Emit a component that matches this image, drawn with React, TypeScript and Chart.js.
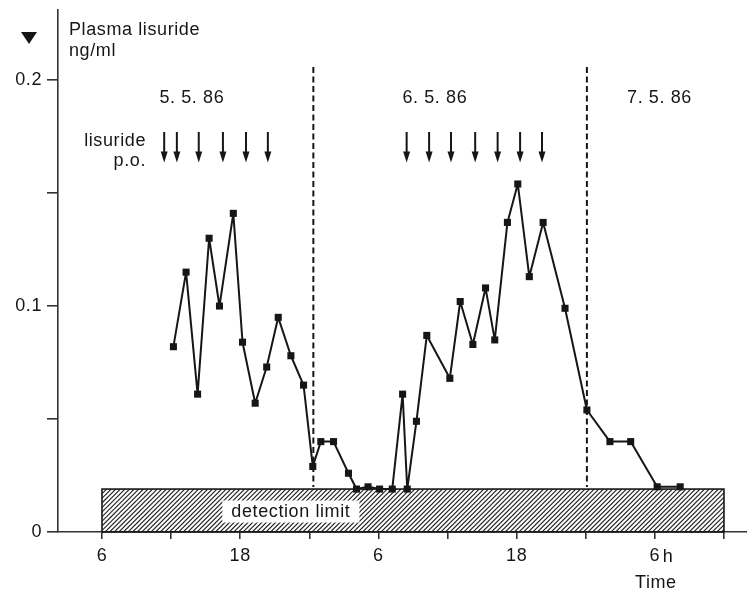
import React, { useEffect, useRef } from "react";
import { Chart, registerables } from "chart.js";

Chart.register(...registerables);

// ---- data ----
const timeHours = [12.2, 13.3, 14.3, 15.3, 16.2, 17.4, 18.2, 19.3, 20.3, 21.3, 22.4, 23.5, 24.3, 25.0, 26.1, 27.4, 28.1, 29.1, 30.1, 31.2, 32.1, 32.5, 33.3, 34.2, 36.2, 37.1, 38.2, 39.3, 40.1, 41.2, 42.1, 43.1, 44.3, 46.2, 48.1, 50.1, 51.9, 54.2, 56.2];
const plasmaLisuride = [0.082, 0.115, 0.061, 0.130, 0.100, 0.141, 0.084, 0.057, 0.073, 0.095, 0.078, 0.065, 0.029, 0.040, 0.040, 0.026, 0.019, 0.020, 0.019, 0.019, 0.061, 0.019, 0.049, 0.087, 0.068, 0.102, 0.083, 0.108, 0.085, 0.137, 0.154, 0.113, 0.137, 0.099, 0.054, 0.040, 0.040, 0.020, 0.020];

const xTickValues = [6, 12, 18, 24, 30, 36, 42, 48, 54, 60];
const xTickLabels = ["6", "", "18", "", "6", "", "18", "", "6", ""];
const yTickValues = [0, 0.05, 0.1, 0.15, 0.2];
const yTickLabels = ["0", "", "0.1", "", "0.2"];

const dayLabels = ["5. 5. 86", "6. 5. 86", "7. 5. 86"];
const dayLabelHours = [13.8, 34.9, 54.4];
const dayBoundaryHours = [24.35, 48.1];
const doseHours = [11.4, 12.5, 14.4, 16.5, 18.5, 20.4, 32.45, 34.4, 36.3, 38.4, 40.35, 42.3, 44.2];
const detectionLimit = 0.019;
const detectionRange = [6, 60];

const FONT = "'Liberation Sans', Arial, Helvetica, sans-serif";
const INK = "#161616";

const overlayPlugin = {
  id: "overlay",
  beforeDraw(chart: any) {
    const ctx = chart.ctx;
    ctx.save();
    ctx.fillStyle = "#ffffff";
    ctx.fillRect(0, 0, chart.width, chart.height);
    ctx.restore();
    (ctx as any).letterSpacing = "0.6px";
  },
  beforeDatasetsDraw(chart: any) {
    const ctx = chart.ctx;
    const xs = chart.scales.x;
    const ys = chart.scales.y;
    // detection limit hatched band
    const x0 = xs.getPixelForValue(detectionRange[0]);
    const x1 = xs.getPixelForValue(detectionRange[1]);
    const yTop = ys.getPixelForValue(detectionLimit);
    const yBot = ys.getPixelForValue(0);
    ctx.save();
    ctx.beginPath();
    ctx.rect(x0, yTop, x1 - x0, yBot - yTop);
    ctx.clip();
    ctx.strokeStyle = "#222";
    ctx.lineWidth = 1.1;
    const h = yBot - yTop;
    for (let x = x0 - h; x < x1 + h; x += 4.6) {
      ctx.beginPath();
      ctx.moveTo(x, yBot);
      ctx.lineTo(x + h, yTop);
      ctx.stroke();
    }
    ctx.restore();
    ctx.save();
    ctx.strokeStyle = INK;
    ctx.lineWidth = 1.6;
    ctx.strokeRect(x0, yTop, x1 - x0, yBot - yTop);
    ctx.restore();

    // label box
    ctx.save();
    ctx.font = `18px ${FONT}`;
    (ctx as any).letterSpacing = "0.6px";
    const text = "detection limit";
    const tw = ctx.measureText(text).width;
    const cx = xs.getPixelForValue(22.4);
    const cy = (yTop + yBot) / 2 + 1;
    ctx.fillStyle = "#ffffff";
    ctx.fillRect(cx - tw / 2 - 9, cy - 11, tw + 18, 22);
    ctx.fillStyle = INK;
    ctx.textAlign = "center";
    ctx.textBaseline = "middle";
    ctx.fillText(text, cx, cy);
    ctx.restore();

    // dashed day boundaries
    ctx.save();
    ctx.strokeStyle = INK;
    ctx.lineWidth = 2;
    ctx.setLineDash([6, 3.5]);
    dayBoundaryHours.forEach((hh) => {
      const x = xs.getPixelForValue(hh);
      ctx.beginPath();
      ctx.moveTo(x, ys.getPixelForValue(0.2058));
      ctx.lineTo(x, yTop - 2);
      ctx.stroke();
    });
    ctx.restore();
  },
  afterDraw(chart: any) {
    const ctx = chart.ctx;
    const xs = chart.scales.x;
    const ys = chart.scales.y;
    ctx.save();
    (ctx as any).letterSpacing = "0.6px";
    ctx.fillStyle = INK;
    ctx.font = `18px ${FONT}`;
    ctx.textBaseline = "alphabetic";

    // axis title
    ctx.textAlign = "left";
    ctx.fillText("Plasma lisuride", 69, 35);
    ctx.fillText("ng/ml", 69, 56);

    // marker triangle
    ctx.beginPath();
    ctx.moveTo(21, 32);
    ctx.lineTo(37, 32);
    ctx.lineTo(29, 44);
    ctx.closePath();
    ctx.fill();

    // day labels
    ctx.textAlign = "center";
    ctx.textBaseline = "middle";
    dayLabels.forEach((t, i) => {
      ctx.fillText(t, xs.getPixelForValue(dayLabelHours[i]), ys.getPixelForValue(0.192));
    });

    // lisuride p.o.
    ctx.textAlign = "right";
    ctx.fillText("lisuride", 146, 141);
    ctx.fillText("p.o.", 146, 161);

    // arrows
    const aTop = ys.getPixelForValue(0.177);
    const aBot = ys.getPixelForValue(0.1635);
    ctx.strokeStyle = INK;
    ctx.lineWidth = 2;
    doseHours.forEach((hh) => {
      const x = xs.getPixelForValue(hh);
      ctx.beginPath();
      ctx.moveTo(x, aTop);
      ctx.lineTo(x, aBot - 8);
      ctx.stroke();
      ctx.beginPath();
      ctx.moveTo(x - 3.5, aBot - 11);
      ctx.lineTo(x + 3.5, aBot - 11);
      ctx.lineTo(x, aBot);
      ctx.closePath();
      ctx.fill();
    });

    // "h" unit and axis "Time"
    ctx.textAlign = "left";
    ctx.textBaseline = "middle";
    ctx.fillText("h", xs.getPixelForValue(54) + 8, 557);
    ctx.textAlign = "center";
    ctx.fillText("Time", xs.getPixelForValue(54) + 1, 583);
    ctx.restore();
  },
};

export default function App() {
  const canvasRef = useRef<HTMLCanvasElement | null>(null);

  useEffect(() => {
    document.body.style.margin = "0";
    const canvas = canvasRef.current;
    if (!canvas) return;
    const chart = new Chart(canvas, {
      type: "line",
      data: {
        datasets: [
          {
            label: "Plasma lisuride",
            data: timeHours.map((t, i) => ({ x: t, y: plasmaLisuride[i] })),
            borderColor: INK,
            backgroundColor: INK,
            borderWidth: 2,
            borderJoinStyle: "round",
            pointStyle: "rect",
            pointRadius: 5,
            pointBorderWidth: 0,
            pointBackgroundColor: INK,
            tension: 0,
          },
        ],
      },
      options: {
        animation: false,
        responsive: false,
        devicePixelRatio: 1,
        layout: { autoPadding: false, padding: { top: 10, right: 0, left: 0, bottom: 0 } },
        plugins: {
          legend: { display: false },
          tooltip: { enabled: false },
          title: { display: false },
        },
        scales: {
          x: {
            type: "linear",
            min: 2.18,
            max: 62.0,
            afterBuildTicks: (s: any) => {
              s.ticks = xTickValues.map((v) => ({ value: v }));
            },
            afterFit: (s: any) => {
              s.height = 59;
              s.paddingLeft = 0;
              s.paddingRight = 0;
            },
            ticks: {
              autoSkip: false,
              maxRotation: 0,
              padding: 6,
              color: INK,
              font: { family: FONT, size: 18 },
              callback: (v: any) => {
                const i = xTickValues.indexOf(Number(v));
                return i >= 0 ? xTickLabels[i] : "";
              },
            },
            grid: {
              drawOnChartArea: false,
              drawTicks: true,
              tickLength: 7,
              color: "#333",
              lineWidth: 1.6,
            },
            border: { display: true, color: "#333", width: 1.6 },
          },
          y: {
            type: "linear",
            min: 0,
            max: 0.231,
            afterBuildTicks: (s: any) => {
              s.ticks = yTickValues.map((v) => ({ value: v }));
            },
            afterFit: (s: any) => {
              s.width = 58;
              s.paddingTop = 0;
              s.paddingBottom = 0;
            },
            ticks: {
              autoSkip: false,
              padding: 5,
              color: INK,
              font: { family: FONT, size: 18 },
              callback: (v: any) => {
                const i = yTickValues.indexOf(Number(v));
                return i >= 0 ? yTickLabels[i] : "";
              },
            },
            grid: {
              drawOnChartArea: false,
              drawTicks: true,
              tickLength: 11,
              color: "#333",
              lineWidth: 1.6,
            },
            border: { display: true, color: "#333", width: 1.6 },
          },
        },
      },
      plugins: [overlayPlugin],
    });
    return () => chart.destroy();
  }, []);

  return (
    <div style={{ position: "relative", width: 747, height: 591 }}>
      <canvas ref={canvasRef} width={747} height={591} style={{ display: "block" }} />
    </div>
  );
}
